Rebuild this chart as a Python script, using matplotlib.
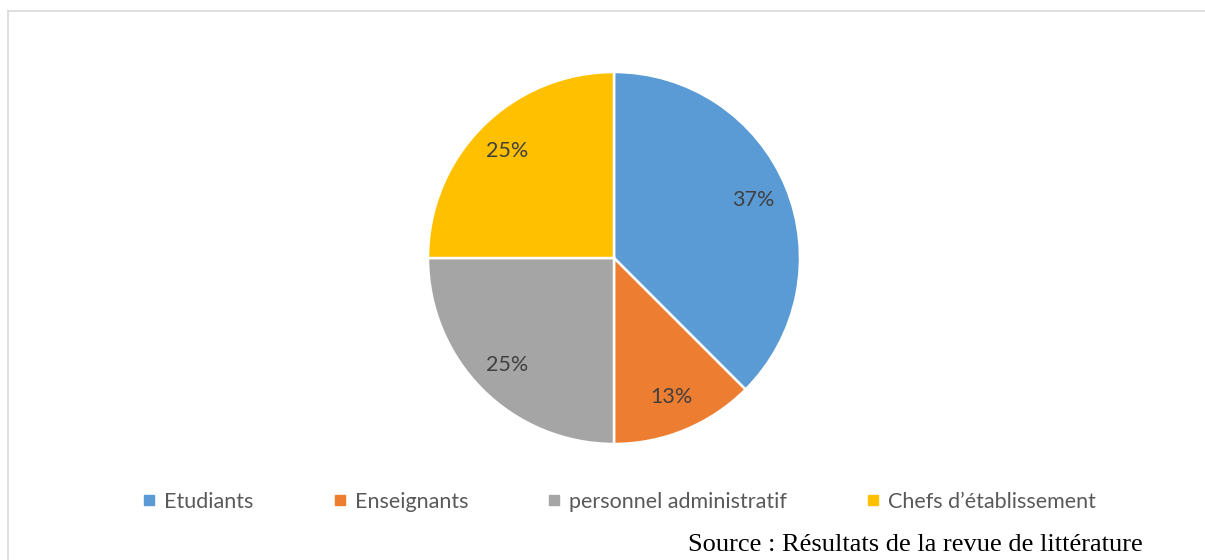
import matplotlib.pyplot as plt
from matplotlib.lines import Line2D

plt.rcParams['font.family'] = ['Lato', 'DejaVu Sans']

# données
categories = ["Etudiants", "Enseignants", "personnel administratif", "Chefs d’établissement"]
parts = [37.5, 12.5, 25, 25]
pct_labels = ["37%", "13%", "25%", "25%"]
colors = ["#5B9BD5", "#ED7D31", "#A5A5A5", "#FFC000"]

W, H = 1205, 560
fig = plt.figure(figsize=(W / 100, H / 100), dpi=100)

# cadre gris clair (haut + gauche)
fig.add_artist(Line2D([8 / W, 1], [1 - 11 / H, 1 - 11 / H], color="#D9D9D9", lw=1.2))
fig.add_artist(Line2D([8 / W, 8 / W], [0, 1 - 11 / H], color="#D9D9D9", lw=1.2))

ax = fig.add_axes([428 / W, 116 / H, 372 / W, 372 / H])
lab_iter = iter(pct_labels)
wedges, texts, autotexts = ax.pie(
    parts, colors=colors, startangle=90, counterclock=False,
    autopct=lambda p: next(lab_iter), pctdistance=0.81,
    wedgeprops=dict(edgecolor="white", linewidth=1.8),
    textprops=dict(color="#404040", fontsize=15.5))
ax.set_xlim(-1, 1)
ax.set_ylim(-1, 1)
ax.set_aspect("equal")

# petits carrés de légende
handles = [Line2D([], [], marker="s", ls="", color=c, markersize=6.5) for c in colors]
fig.legend(handles, categories, loc="center", bbox_to_anchor=(620 / W, 1 - 502 / H),
           ncol=4, frameon=False, fontsize=15.5, labelcolor="#595959",
           handlelength=0.5, handletextpad=0.45, columnspacing=3.75)

fig.text(688 / W, 1 - 545 / H, "Source : Résultats de la revue de littérature",
         family="Liberation Serif", fontsize=19, color="black", va="center", ha="left")

plt.savefig("out.png", dpi=100)
